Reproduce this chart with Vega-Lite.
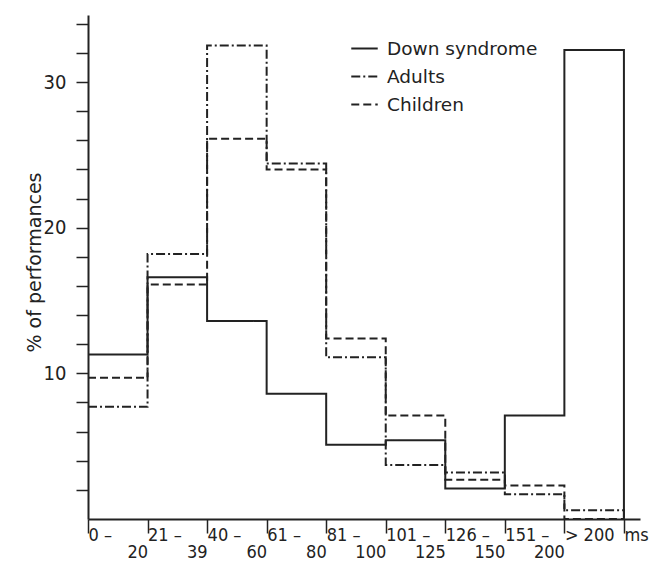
{
  "$schema": "https://vega.github.io/schema/vega-lite/v6.json",
  "width": 552,
  "height": 504,
  "autosize": {"type": "none"},
  "padding": {"left": 88, "top": 15, "right": 14, "bottom": 43},
  "background": "white",
  "config": {
    "view": {"stroke": null},
    "axis": {"labelColor": "#222", "titleColor": "#222", "domainColor": "#222", "tickColor": "#222", "grid": false}
  },
  "data": {
    "values": [
      {"series": "Down syndrome", "edge": 0, "pct": 11.3},
      {"series": "Down syndrome", "edge": 1, "pct": 16.6},
      {"series": "Down syndrome", "edge": 2, "pct": 13.6},
      {"series": "Down syndrome", "edge": 3, "pct": 8.6},
      {"series": "Down syndrome", "edge": 4, "pct": 5.1},
      {"series": "Down syndrome", "edge": 5, "pct": 5.4},
      {"series": "Down syndrome", "edge": 6, "pct": 2.1},
      {"series": "Down syndrome", "edge": 7, "pct": 7.1},
      {"series": "Down syndrome", "edge": 8, "pct": 32.2},
      {"series": "Down syndrome", "edge": 9, "pct": 0},
      {"series": "Adults", "edge": 0, "pct": 7.7},
      {"series": "Adults", "edge": 1, "pct": 18.2},
      {"series": "Adults", "edge": 2, "pct": 32.5},
      {"series": "Adults", "edge": 3, "pct": 24.4},
      {"series": "Adults", "edge": 4, "pct": 11.1},
      {"series": "Adults", "edge": 5, "pct": 3.7},
      {"series": "Adults", "edge": 6, "pct": 3.2},
      {"series": "Adults", "edge": 7, "pct": 1.7},
      {"series": "Adults", "edge": 8, "pct": 0.6},
      {"series": "Adults", "edge": 9, "pct": 0},
      {"series": "Children", "edge": 0, "pct": 9.7},
      {"series": "Children", "edge": 1, "pct": 16.1},
      {"series": "Children", "edge": 2, "pct": 26.1},
      {"series": "Children", "edge": 3, "pct": 24.0},
      {"series": "Children", "edge": 4, "pct": 12.4},
      {"series": "Children", "edge": 5, "pct": 7.1},
      {"series": "Children", "edge": 6, "pct": 2.7},
      {"series": "Children", "edge": 7, "pct": 2.3},
      {"series": "Children", "edge": 8, "pct": 0},
      {"series": "Children", "edge": 9, "pct": 0}
    ]
  },
  "encoding": {
    "y": {
      "field": "pct", "type": "quantitative",
      "scale": {"domain": [0, 34.6], "nice": false},
      "axis": {
        "title": "% of performances",
        "titleFont": "DejaVu Sans", "titleFontSize": 19, "titleFontWeight": "normal",
        "titleX": -44, "titleY": 247, "titleAngle": 270, "titleBaseline": "bottom", "titleAlign": "center",
        "values": [2, 4, 6, 8, 10, 12, 14, 16, 18, 20, 22, 24, 26, 28, 30, 32, 34],
        "labelExpr": "datum.value === 10 || datum.value === 20 || datum.value === 30 ? datum.label : ''",
        "labelOverlap": false,
        "labelFont": "DejaVu Sans Condensed", "labelFontSize": 20, "labelPadding": 10,
        "tickSize": 12, "tickWidth": 1.5, "domainWidth": 2
      }
    },
    "strokeDash": {
      "field": "series", "type": "nominal",
      "scale": {"domain": ["Down syndrome", "Adults", "Children"], "range": [[1, 0], [9, 3, 2, 3], [8, 4]]},
      "legend": {
        "orient": "none", "legendX": 262, "legendY": 19, "title": null,
        "symbolType": "stroke", "symbolSize": 700, "symbolStrokeWidth": 2, "symbolStrokeColor": "#222",
        "labelFont": "DejaVu Sans", "labelFontSize": 18.5, "labelColor": "#222", "labelOffset": 8,
        "rowPadding": 4
      }
    }
  },
  "resolve": {"axis": {"x": "independent"}},
  "layer": [
    {
      "transform": [{"filter": "datum.series === 'Down syndrome'"}],
      "mark": {"type": "line", "interpolate": "step-after", "color": "#222", "strokeWidth": 2},
      "encoding": {
        "x": {
          "field": "edge", "type": "quantitative",
          "scale": {"domain": [0, 9.27], "nice": false, "zero": false},
          "axis": {
            "orient": "bottom", "title": null,
            "values": [0, 1, 2, 3, 4, 5, 6, 7, 8, 9],
            "labelExpr": "['0 –','21 –','40 –','61 –','81 –','101 –','126 –','151 –','> 200','ms'][datum.value]",
            "labelAlign": "left", "labelBaseline": "top", "labelDx": 6,
            "labelPadding": -7, "labelFlush": false, "labelOverlap": false,
            "labelFont": "DejaVu Sans Condensed", "labelFontSize": 18,
            "tickSize": 14, "tickWidth": 1.5, "domainWidth": 2
          }
        }
      }
    },
    {
      "transform": [{"filter": "datum.series !== 'Down syndrome'"}],
      "mark": {"type": "line", "interpolate": "step-after", "color": "#222", "strokeWidth": 2},
      "encoding": {
        "x": {
          "field": "edge", "type": "quantitative",
          "axis": {
            "orient": "bottom", "title": null,
            "values": [1, 2, 3, 4, 5, 6, 7, 8],
            "labelExpr": "['','20','39','60','80','100','125','150','200'][datum.value]",
            "labelAlign": "right", "labelBaseline": "top", "labelDx": -1,
            "labelPadding": 24, "labelFlush": false, "labelOverlap": false,
            "labelFont": "DejaVu Sans Condensed", "labelFontSize": 18,
            "ticks": false, "domain": false
          }
        }
      }
    }
  ]
}
